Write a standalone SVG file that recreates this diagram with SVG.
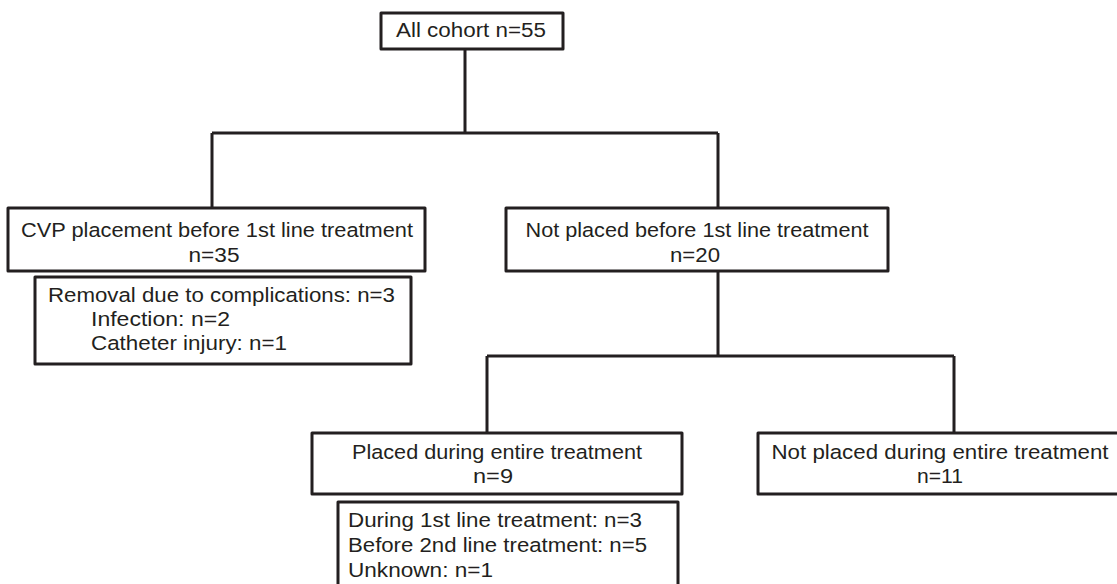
<svg xmlns="http://www.w3.org/2000/svg" width="1117" height="584" viewBox="0 0 1117 584">
<style>
.box{fill:#fff;stroke:#231f20;stroke-width:3;stroke-linejoin:round}
.ln{fill:none;stroke:#231f20;stroke-width:3}
text{font-family:"Liberation Sans",Arial,sans-serif;font-size:20.5px;fill:#231f20}
.c{text-anchor:middle}
</style>
<rect width="1117" height="584" fill="#fff"/>
<g id="connectors">
<path class="ln" d="M465 49V133M212 133H718M212 133V208M718 133V208"/>
<path class="ln" d="M718 271V356M487 356H954M487 356V433M954 356V433"/>
</g>
<g id="n-all">
<rect class="box" x="381" y="13" width="182" height="36"/>
<text class="c" x="471" y="37" textLength="150" lengthAdjust="spacingAndGlyphs">All cohort n=55</text>
</g>
<g id="n-cvp">
<rect class="box" x="8" y="208" width="417" height="63"/>
<text class="c" x="217" y="237" textLength="392" lengthAdjust="spacingAndGlyphs">CVP placement before 1st line treatment</text>
<text class="c" x="214" y="262" textLength="51" lengthAdjust="spacingAndGlyphs">n=35</text>
</g>
<g id="n-removal">
<rect class="box" x="35" y="277" width="376" height="87"/>
<text x="48" y="302" textLength="347" lengthAdjust="spacingAndGlyphs">Removal due to complications: n=3</text>
<text x="91" y="326" textLength="139" lengthAdjust="spacingAndGlyphs">Infection: n=2</text>
<text x="91" y="350" textLength="196" lengthAdjust="spacingAndGlyphs">Catheter injury: n=1</text>
</g>
<g id="n-notplaced">
<rect class="box" x="506" y="208" width="382" height="63"/>
<text class="c" x="697" y="237" textLength="343" lengthAdjust="spacingAndGlyphs">Not placed before 1st line treatment</text>
<text class="c" x="695" y="262" textLength="50" lengthAdjust="spacingAndGlyphs">n=20</text>
</g>
<g id="n-placed">
<rect class="box" x="312" y="433" width="370" height="61"/>
<text class="c" x="497" y="459" textLength="290" lengthAdjust="spacingAndGlyphs">Placed during entire treatment</text>
<text class="c" x="493" y="483" textLength="40" lengthAdjust="spacingAndGlyphs">n=9</text>
</g>
<g id="n-notplaced-entire">
<rect class="box" x="758" y="433" width="370" height="61"/>
<text class="c" x="940" y="459" textLength="337" lengthAdjust="spacingAndGlyphs">Not placed during entire treatment</text>
<text class="c" x="940" y="483" textLength="46" lengthAdjust="spacingAndGlyphs">n=11</text>
</g>
<g id="n-timing">
<rect class="box" x="338" y="502" width="340" height="100"/>
<text x="348" y="527" textLength="294" lengthAdjust="spacingAndGlyphs">During 1st line treatment: n=3</text>
<text x="348" y="552" textLength="299" lengthAdjust="spacingAndGlyphs">Before 2nd line treatment: n=5</text>
<text x="348" y="577" textLength="145" lengthAdjust="spacingAndGlyphs">Unknown: n=1</text>
</g>
</svg>
